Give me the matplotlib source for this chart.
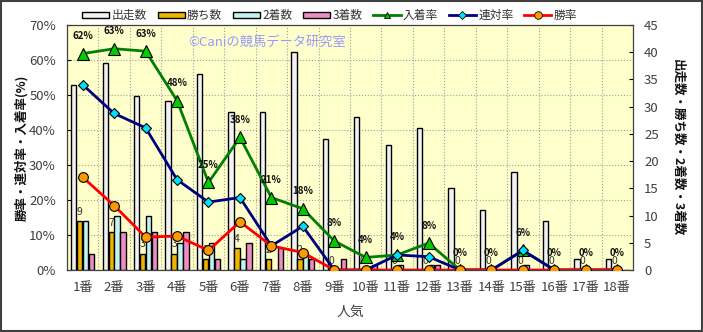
import matplotlib
matplotlib.use("Agg")
import matplotlib.pyplot as plt
import numpy as np
from matplotlib.ticker import FixedLocator, FuncFormatter
from matplotlib.lines import Line2D
from matplotlib.patches import Patch, Rectangle

plt.rcParams['font.family'] = ['Noto Sans CJK JP', 'DejaVu Sans']

categories = ["1番", "2番", "3番", "4番", "5番", "6番", "7番", "8番", "9番",
              "10番", "11番", "12番", "13番", "14番", "15番", "16番", "17番", "18番"]
runs = [34, 38, 32, 31, 36, 29, 29, 40, 24, 28, 23, 26, 15, 11, 18, 9, 2, 2]
wins = [9, 7, 3, 3, 2, 4, 2, 2, 0, 0, 0, 0, 0, 0, 0, 0, 0, 0]
seconds = [9, 10, 10, 5, 5, 2, 0, 3, 0, 0, 1, 1, 0, 0, 1, 0, 0, 0]
thirds = [3, 7, 7, 7, 2, 5, 4, 2, 2, 1, 0, 1, 0, 0, 0, 0, 0, 0]
win_rate = [26.5, 18.4, 9.4, 9.7, 5.6, 13.8, 6.9, 5.0, 0, 0, 0, 0, 0, 0, 0, 0, 0, 0]
ren_rate = [52.9, 44.7, 40.6, 25.8, 19.4, 20.7, 6.9, 12.5, 0, 0, 4.3, 3.8, 0, 0, 5.6, 0, 0, 0]
place_rate = [61.8, 63.2, 62.5, 48.4, 25.0, 37.9, 20.7, 17.5, 8.3, 3.6, 4.3, 7.7, 0, 0, 5.6, 0, 0, 0]
place_labels = ["62%", "63%", "63%", "48%", "25%", "38%", "21%", "18%", "8%",
                "4%", "4%", "8%", "0%", "0%", "6%", "0%", "0%", "0%"]

fig = plt.figure(figsize=(7.03, 3.32), dpi=100)
ax = fig.add_axes([0.0953, 0.1867, 0.9004 - 0.0953, 0.925 - 0.1867])
ax2 = ax.twinx()

x = np.arange(len(categories))
n = len(categories)

ax2.set_facecolor('#FFFFCC')
ax2.patch.set_visible(True)
ax.set_zorder(ax2.get_zorder() + 1)
ax.patch.set_visible(False)

bw = 0.17
offs = [-0.285, -0.095, 0.095, 0.285]
bar_specs = [(runs, '#F2F2F2', '出走数'), (wins, '#F0B400', '勝ち数'),
             (seconds, '#C4F2F2', '2着数'), (thirds, '#F08CC4', '3着数')]
for (vals, col, lab), o in zip(bar_specs, offs):
    ax2.bar(x + o, vals, width=bw, color=col, edgecolor='black', linewidth=1.0, zorder=3)

for xi, v in zip(x, wins):
    ax2.text(xi + offs[1], v + 0.8, str(v), ha='center', va='bottom', fontsize=7.5,
             color='#333333', zorder=4)

ax2.set_ylim(0, 45)
ax2.set_yticks(np.arange(0, 46, 5))
ax2.yaxis.set_minor_locator(FixedLocator([k * 45 / 7 for k in range(1, 7)]))
ax2.grid(which='minor', axis='y', color='#A0A0A0', linestyle=':', linewidth=0.8, zorder=0)
ax2.tick_params(axis='y', which='minor', length=0)
ax2.tick_params(axis='y', which='major', direction='in', length=3, labelsize=9.5,
                labelcolor='#404040', pad=8)
for b in np.arange(0.5, n - 1, 1.0):
    ax2.axvline(b, color='#A0A0A0', linestyle=':', linewidth=0.8, zorder=0)
ax2.set_ylabel('出走数・勝ち数・2着数・3着数', rotation=270, labelpad=18,
               fontsize=9, fontweight='bold', color='#111111')

ax.plot(x, place_rate, color='#008000', linewidth=2, marker='^', markersize=8,
        markerfacecolor='#00CC00', markeredgecolor='black', markeredgewidth=0.8, zorder=5)
ax.plot(x, ren_rate, color='#000080', linewidth=2, marker='D', markersize=5.5,
        markerfacecolor='#00E0FF', markeredgecolor='black', markeredgewidth=0.8, zorder=6)
ax.plot(x, win_rate, color='#FF0000', linewidth=2, marker='o', markersize=7,
        markerfacecolor='#FF9900', markeredgecolor='black', markeredgewidth=0.8, zorder=7)
for xi, v, lab in zip(x, place_rate, place_labels):
    ax.annotate(lab, (xi, v), xytext=(0, 9), textcoords='offset points', ha='center',
                va='bottom', fontsize=7, fontweight='bold', color='#111111', zorder=8)

ax.set_xlim(-0.5, n - 0.5)
ax.set_ylim(0, 70)
ax.set_yticks(np.arange(0, 71, 10))
ax.yaxis.set_major_formatter(FuncFormatter(lambda v, p: f"{int(v)}%"))
ax.set_xticks(x)
ax.set_xticklabels(categories)
ax.tick_params(axis='y', direction='in', length=3, labelsize=9.5, labelcolor='#404040', pad=8)
ax.tick_params(axis='x', length=0, labelsize=9.5, labelcolor='#404040', pad=8)
ax.set_ylabel('勝率・連対率・入着率(%)', fontsize=9, fontweight='bold', color='#111111',
              labelpad=1)
ax.set_xlabel('人気', fontsize=10, color='#404040', labelpad=8)
for sp in ax.spines.values():
    sp.set_color('#404040')

ax.text(0.215, 0.93, '©Caniの競馬データ研究室', transform=ax.transAxes, fontsize=9.5,
        color='#9999FF', ha='left', va='center', zorder=1)

handles = [Patch(facecolor=c, edgecolor='black', label=l) for _, c, l in bar_specs]
handles += [
    Line2D([], [], color='#008000', lw=2, marker='^', markersize=5, markerfacecolor='#00CC00',
           markeredgecolor='black', markeredgewidth=0.6, label='入着率'),
    Line2D([], [], color='#000080', lw=2, marker='D', markersize=4, markerfacecolor='#00E0FF',
           markeredgecolor='black', markeredgewidth=0.6, label='連対率'),
    Line2D([], [], color='#FF0000', lw=2, marker='o', markersize=5.5, markerfacecolor='#FF9900',
           markeredgecolor='black', markeredgewidth=0.6, label='勝率'),
]
fig.legend(handles=handles, loc='center', bbox_to_anchor=(0.469, 0.953), ncol=7, frameon=False,
           fontsize=8.5, handlelength=2.3, handleheight=0.5, handletextpad=0.2,
           columnspacing=0.9, labelcolor='#333333', borderpad=0.1)

fig.patches.append(Rectangle((0.001, 0.002), 0.997, 0.995, transform=fig.transFigure,
                             fill=False, edgecolor='#404040', linewidth=1.5))

fig.savefig('out.png', dpi=100)
